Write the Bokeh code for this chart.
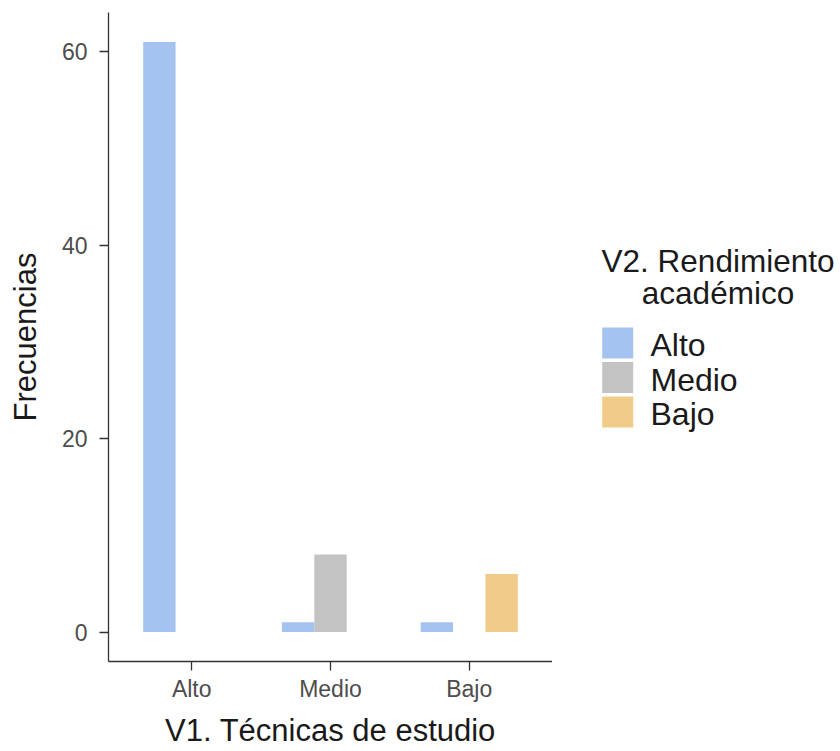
from bokeh.plotting import figure
from bokeh.layouts import row
from bokeh.models import ColumnDataSource, FixedTicker, Range1d
from bokeh.embed import file_html
from bokeh.resources import INLINE
from bokeh.core.properties import value

# ---- data ----
tecnicas = ["Alto", "Medio", "Bajo"]          # V1. Técnicas de estudio (x)
rendimiento = ["Alto", "Medio", "Bajo"]       # V2. Rendimiento académico (fill)
freq_alto = [61, 1, 1]
freq_medio = [0, 8, 0]
freq_bajo = [0, 0, 6]
colores = ["#A4C3F0", "#C3C3C3", "#F0CB8A"]
y_ticks = [0, 20, 40, 60]

x_title = "V1. Técnicas de estudio"
y_title = "Frecuencias"
legend_title = ["V2. Rendimiento", "académico"]

FONT_NAME = "Liberation Sans"
FONT = value(FONT_NAME)

# ---- layout (canvas px) ----
W, H = 840, 751
FL, FT = 108, 12
FW, FH = 444, 649
FB = H - FT - FH           # bottom border
W1 = FL + FW               # main figure width
W2 = W - W1                # legend figure width

p = figure(width=W1, height=H, x_range=Range1d(0.4, 3.6), y_range=Range1d(-3.05, 64.05),
           min_border_left=FL, min_border_top=FT, min_border_right=0,
           min_border_bottom=FB,
           output_backend="svg", toolbar_location=None)
p.outline_line_color = None
p.xgrid.visible = False
p.ygrid.visible = False

# ---- bars (dodged) ----
series = [freq_alto, freq_medio, freq_bajo]
n = len(series)
bw = 0.7 / n
for i, (vals, col) in enumerate(zip(series, colores)):
    xs, tops = [], []
    for j, v in enumerate(vals):
        if v > 0:
            xs.append(j + 1 + (i - (n - 1) / 2) * bw)
            tops.append(v)
    src = ColumnDataSource(dict(x=xs, top=tops))
    p.vbar(x="x", top="top", bottom=0, width=bw, source=src,
           fill_color=col, line_color=None)

# ---- axes ----
for ax in (p.xaxis[0], p.yaxis[0]):
    ax.axis_line_color = "#333333"
    ax.axis_line_width = 1.3
    ax.major_tick_line_color = "#333333"
    ax.major_tick_line_width = 1.3
    ax.major_tick_out = 9
    ax.major_tick_in = 0
    ax.minor_tick_line_color = None
    ax.major_label_text_font = FONT_NAME
    ax.major_label_text_font_size = "23px"
    ax.major_label_text_color = "#4D4D4D"
    ax.axis_label_text_font = FONT_NAME
    ax.axis_label_text_font_size = "31px"
    ax.axis_label_text_font_style = "normal"
    ax.axis_label_text_color = "#1A1A1A"

p.xaxis.ticker = FixedTicker(ticks=[i + 1 for i in range(len(tecnicas))])
p.xaxis.major_label_overrides = {i + 1: t for i, t in enumerate(tecnicas)}
p.xaxis.major_label_standoff = 5
p.xaxis.axis_label = x_title
p.xaxis.axis_label_standoff = 8
p.yaxis.ticker = FixedTicker(ticks=y_ticks)
p.yaxis.major_label_standoff = 12
p.yaxis.axis_label = y_title
p.yaxis.axis_label_standoff = 16

# ---- legend (separate panel; frame aligned with the main frame, pixel-unit ranges) ----
leg = figure(width=W2, height=H, x_range=Range1d(W1, W), y_range=Range1d(FT + FH, FT),
             x_axis_type=None, y_axis_type=None,
             min_border_left=0, min_border_right=0,
             min_border_top=FT, min_border_bottom=FB,
             output_backend="svg", toolbar_location=None)
leg.outline_line_color = None
leg.xgrid.visible = False
leg.ygrid.visible = False

row_centers = [342.5, 377.0, 411.5]
sq = 31
sq_left = 601.7
txt_shift = -12   # renderer baseline correction
leg.rect(x=[sq_left + sq / 2] * n, y=row_centers, width=sq, height=sq,
         fill_color=colores, line_color=None)
leg.text(x=[650] * n, y=[c + 14 + txt_shift for c in row_centers], text=rendimiento,
         text_font=FONT, text_font_size="32px", text_color="#1A1A1A",
         text_baseline="alphabetic", text_align="left")
leg.text(x=[717.5] * 2, y=[272 + txt_shift, 304 + txt_shift], text=legend_title,
         text_font=FONT, text_font_size="31.5px", text_color="#1A1A1A",
         text_baseline="alphabetic", text_align="center")

layout = row(p, leg, spacing=0)
open("out.html", "w").write(file_html(layout, INLINE))
